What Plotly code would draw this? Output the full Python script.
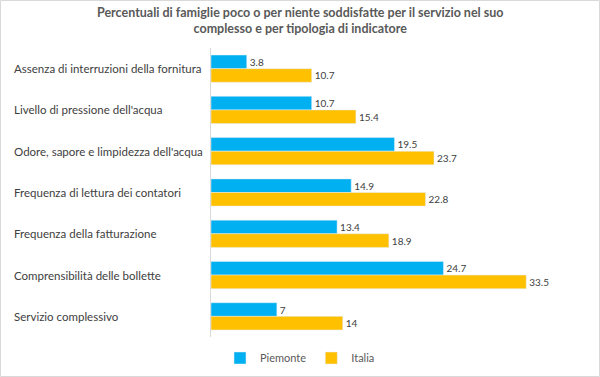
import plotly.graph_objects as go

categories = [
    "Assenza di interruzioni della fornitura",
    "Livello di pressione dell'acqua",
    "Odore, sapore e limpidezza dell'acqua",
    "Frequenza di lettura dei contatori",
    "Frequenza della fatturazione",
    "Comprensibilità delle bollette",
    "Servizio complessivo",
]
piemonte = [3.8, 10.7, 19.5, 14.9, 13.4, 24.7, 7]
italia = [10.7, 15.4, 23.7, 22.8, 18.9, 33.5, 14]

W, H = 600, 377
L, R, T, B = 211, 22, 48, 40
pw = W - L - R
ph = H - T - B

fig = go.Figure()
fig.add_trace(go.Bar(y=categories, x=piemonte, name="Piemonte", orientation="h",
                     marker_color="#00B0F0", text=[str(v) for v in piemonte],
                     textposition="outside", cliponaxis=False,
                     textfont=dict(size=10, color="#404040")))
fig.add_trace(go.Bar(y=categories, x=italia, name="Italia", orientation="h",
                     marker_color="#FFC000", text=[str(v) for v in italia],
                     textposition="outside", cliponaxis=False,
                     textfont=dict(size=10, color="#404040")))

for c in categories:
    fig.add_annotation(x=(12 - L) / pw, xref="paper", y=c, yref="y", text=c,
                       showarrow=False, xanchor="left",
                       font=dict(size=11.5, color="#404040"))

fig.add_annotation(x=(300 - L) / pw, xref="paper", y=1 + (T - 20) / ph, yref="paper",
                   text="<b>Percentuali di famiglie poco o per niente soddisfatte per il servizio nel suo<br>complesso e per tipologia di indicatore</b>",
                   showarrow=False, xanchor="center", yanchor="middle", align="center",
                   font=dict(size=12.5, color="#595959"))

fig.update_layout(
    width=W, height=H,
    margin=dict(l=L, r=R, t=T, b=B, autoexpand=False),
    paper_bgcolor="white", plot_bgcolor="white",
    font=dict(family="Lato, Open Sans, sans-serif", color="#404040"),
    barmode="group", bargap=0.34, bargroupgap=0,
    xaxis=dict(range=[0, 39], showgrid=False, showticklabels=False, zeroline=False,
               showline=False, fixedrange=True),
    yaxis=dict(autorange="reversed", showticklabels=False, showgrid=False,
               showline=True, linecolor="#D9D9D9", linewidth=1, ticks=""),
    legend=dict(orientation="h", x=0.5, xref="container", xanchor="center",
                y=19 / H, yref="container", yanchor="middle",
                bgcolor="rgba(0,0,0,0)",
                font=dict(size=11, color="#595959"), itemwidth=30),
    showlegend=True,
)
fig.add_shape(type="rect", xref="paper", yref="paper",
              x0=(-L + 0.5) / pw, x1=(W - L - 0.5) / pw,
              y0=(-B + 0.5) / ph, y1=1 + (T - 0.5) / ph,
              line=dict(color="#D9D9D9", width=1), layer="below")

fig.write_html("out.html",
               config={"displayModeBar": False, "responsive": False},
               post_script="document.body.style.margin='0';document.documentElement.style.overflow='hidden';document.body.style.overflow='hidden';window.scrollTo(0,0);")
